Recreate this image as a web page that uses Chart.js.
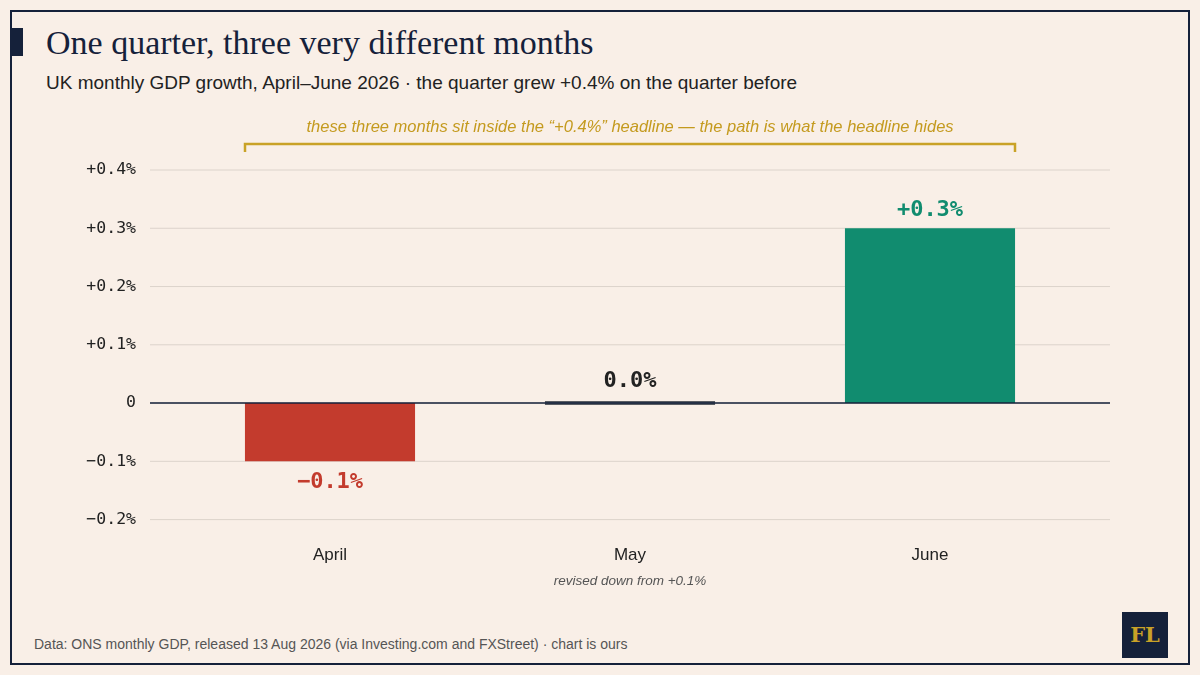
<!DOCTYPE html>
<html><head><meta charset="utf-8">
<script src="https://cdn.jsdelivr.net/npm/chart.js@4/dist/chart.umd.min.js"></script>
<style>
html,body{margin:0;padding:0;background:#f9efe7;}
#card{position:absolute;left:10px;top:10px;width:1176px;height:651px;border:2px solid #15213a;background:#f9efe7;}
#acc{position:absolute;left:10px;top:28px;width:13px;height:28px;background:#15213a;}
#title{position:absolute;left:46px;top:24px;font:34px "Liberation Serif","Times New Roman",serif;color:#15213a;}
#sub{position:absolute;left:46px;top:72px;font:19px "Liberation Sans",Arial,sans-serif;color:#222;}
#src{position:absolute;left:34px;top:636px;font:14px "Liberation Sans",Arial,sans-serif;color:#555;}
#logo{position:absolute;left:1122px;top:612px;width:46px;height:46px;background:#15213a;color:#c9a227;font:bold 21px "DejaVu Serif",serif;text-align:center;line-height:46px;}
#wrap{position:absolute;left:0;top:100px;width:1200px;height:500px;}
</style></head><body>
<div id="card"></div><div id="acc"></div>
<div id="title">One quarter, three very different months</div>
<div id="sub">UK monthly GDP growth, April–June 2026 · the quarter grew +0.4% on the quarter before</div>
<div id="wrap"><canvas id="c" width="1200" height="500"></canvas></div>
<div id="src">Data: ONS monthly GDP, released 13 Aug 2026 (via Investing.com and FXStreet) · chart is ours</div>
<div id="logo">FL</div>
<script>
const categories=["April","May","June"];
const values=[-0.1,0.0,0.3];
const valueLabels=["−0.1%","0.0%","+0.3%"];
const tickLabels={"0.4":"+0.4%","0.3":"+0.3%","0.2":"+0.2%","0.1":"+0.1%","0":"0","-0.1":"−0.1%","-0.2":"−0.2%"};
const colors=["#c33b2d","#5a5d63","#118c6f"];
const labelColors=["#c33b2d","#222","#118c6f"];
const mono='"DejaVu Sans Mono",monospace';
const deco={id:'deco',
 beforeDatasetsDraw(ch){const c=ch.ctx,y=ch.scales.y,a=ch.chartArea;c.save();
  y.ticks.forEach(t=>{const p=y.getPixelForValue(t.value);c.strokeStyle='#dcd3cb';c.lineWidth=1;c.beginPath();c.moveTo(a.left-30,p);c.lineTo(a.right+30,p);c.stroke();});
  c.restore();},
 afterDatasetsDraw(ch){const c=ch.ctx,m=ch.getDatasetMeta(0),y=ch.scales.y;c.save();
  c.strokeStyle='#15213a';c.lineWidth=1.5;const z=y.getPixelForValue(0);c.beginPath();c.moveTo(ch.chartArea.left-30,z);c.lineTo(ch.chartArea.right+30,z);c.stroke();
  c.font='bold 22px '+mono;c.textAlign='center';
  m.data.forEach((b,i)=>{c.fillStyle=labelColors[i];const v=values[i];
   if(v<0){c.textBaseline='top';c.fillText(valueLabels[i],b.x,b.y+10);}else{c.textBaseline='bottom';c.fillText(valueLabels[i],b.x,Math.min(b.y,z-4)-7);}});
  const x0=m.data[0].x-85,x1=m.data[2].x+85;
  c.strokeStyle='#c9a227';c.lineWidth=2.5;c.beginPath();c.moveTo(x0,52);c.lineTo(x0,44);c.lineTo(x1,44);c.lineTo(x1,52);c.stroke();
  c.fillStyle='#c49a1e';c.font='italic 16.5px "Liberation Sans",Arial,sans-serif';c.textBaseline='alphabetic';
  c.fillText('these three months sit inside the “+0.4%” headline — the path is what the headline hides',(x0+x1)/2,32);
  c.fillStyle='#555';c.font='italic 13.5px "Liberation Sans",Arial,sans-serif';c.fillText('revised down from +0.1%',m.data[1].x,485);
  c.restore();}};
new Chart(document.getElementById('c'),{type:'bar',
 data:{labels:categories,datasets:[{data:values,backgroundColor:colors,barPercentage:0.567,categoryPercentage:1,minBarLength:4,borderWidth:0}]},
 options:{responsive:false,animation:false,
  layout:{padding:{left:0,right:120,top:70,bottom:8}},
  plugins:{legend:{display:false},tooltip:{enabled:false}},
  scales:{
   x:{grid:{display:false,drawTicks:false},border:{display:false},ticks:{color:'#222',font:{size:17,family:'"Liberation Sans",Arial,sans-serif'},padding:26}},
   y:{min:-0.2,max:0.4,afterFit(s){s.width=180;},grid:{display:false},border:{display:false},
    ticks:{stepSize:0.1,padding:36,color:'#222',font:{size:16.5,family:mono},callback:v=>tickLabels[String(Math.round(v*10)/10)]}}}},
 plugins:[deco]});
</script></body></html>
